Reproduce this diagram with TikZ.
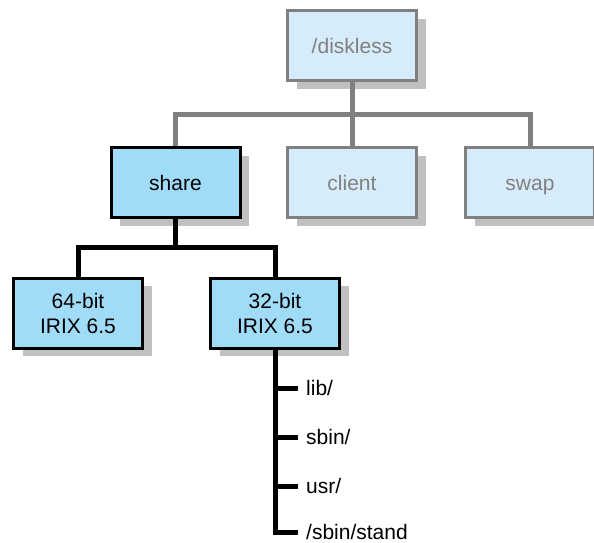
\documentclass[tikz,border=0pt]{standalone}
\usepackage{fontspec}
\setmainfont{Liberation Sans}
\usepackage[HTML]{xcolor}
\usetikzlibrary{positioning, shadows}
\definecolor{paleblue}{HTML}{D6ECFA}
\definecolor{deepblue}{HTML}{A0DCF7}
\definecolor{linegray}{HTML}{808080}
\definecolor{shadowgray}{HTML}{C0C0C0}

\begin{document}
\begin{tikzpicture}[x=1pt,y=-1pt,
  dirbox/.style={draw,line width=3pt,minimum width=129pt,minimum height=70pt,align=center,
    font=\fontsize{21}{25}\selectfont,
    drop shadow={shadow xshift=9pt,shadow yshift=-8pt,fill=shadowgray,opacity=1}},
  oneline/.style={text height=15pt,text depth=0pt},
  offbox/.style={dirbox,oneline,draw=linegray,fill=paleblue,text=linegray},
  onbox/.style={dirbox,draw=black,fill=deepblue,text=black},
  grayline/.style={draw=linegray,line width=5pt},
  blackline/.style={draw=black,line width=5pt},
  leaf/.style={anchor=west,inner sep=8pt,oneline,font=\fontsize{21}{25}\selectfont}]
\useasboundingbox (0,0) rectangle (594,542);
\node[offbox] (diskless) at (352,45.5) {/diskless};
\node[onbox,oneline] (share) at (175.5,182.5) {share};
\node[offbox] (client) at (352,182.5) {client};
\node[offbox] (swap) at (530,182.5) {swap};
\node[onbox] (bit64) at (78,313) {64-bit\\IRIX 6.5};
\node[onbox] (bit32) at (275,313) {32-bit\\IRIX 6.5};
\coordinate (grayjoin) at (352,114);
\coordinate (blackjoin) at (175.5,247);
% upper level
\draw[grayline] (share.north) |- (grayjoin) -| (swap.north);
\draw[grayline] (diskless.south) -- (client.north);
% lower level
\draw[blackline] (bit64.north) |- (blackjoin) -| (bit32.north);
\draw[blackline] (share.south) -- (blackjoin);
% contents of 32-bit
\node[leaf] (lib) at (298,388) {lib/};
\node[leaf] (sbin) at (298,437) {sbin/};
\node[leaf] (usr) at (298,486) {usr/};
\node[leaf] (stand) at (298,532) {/sbin/stand};
\draw[blackline] (bit32.south) |- (stand.west);
\foreach \n in {lib,sbin,usr}{
\draw[blackline] (bit32.south |- \n.west) -- (\n.west);
}
\end{tikzpicture}
\end{document}
